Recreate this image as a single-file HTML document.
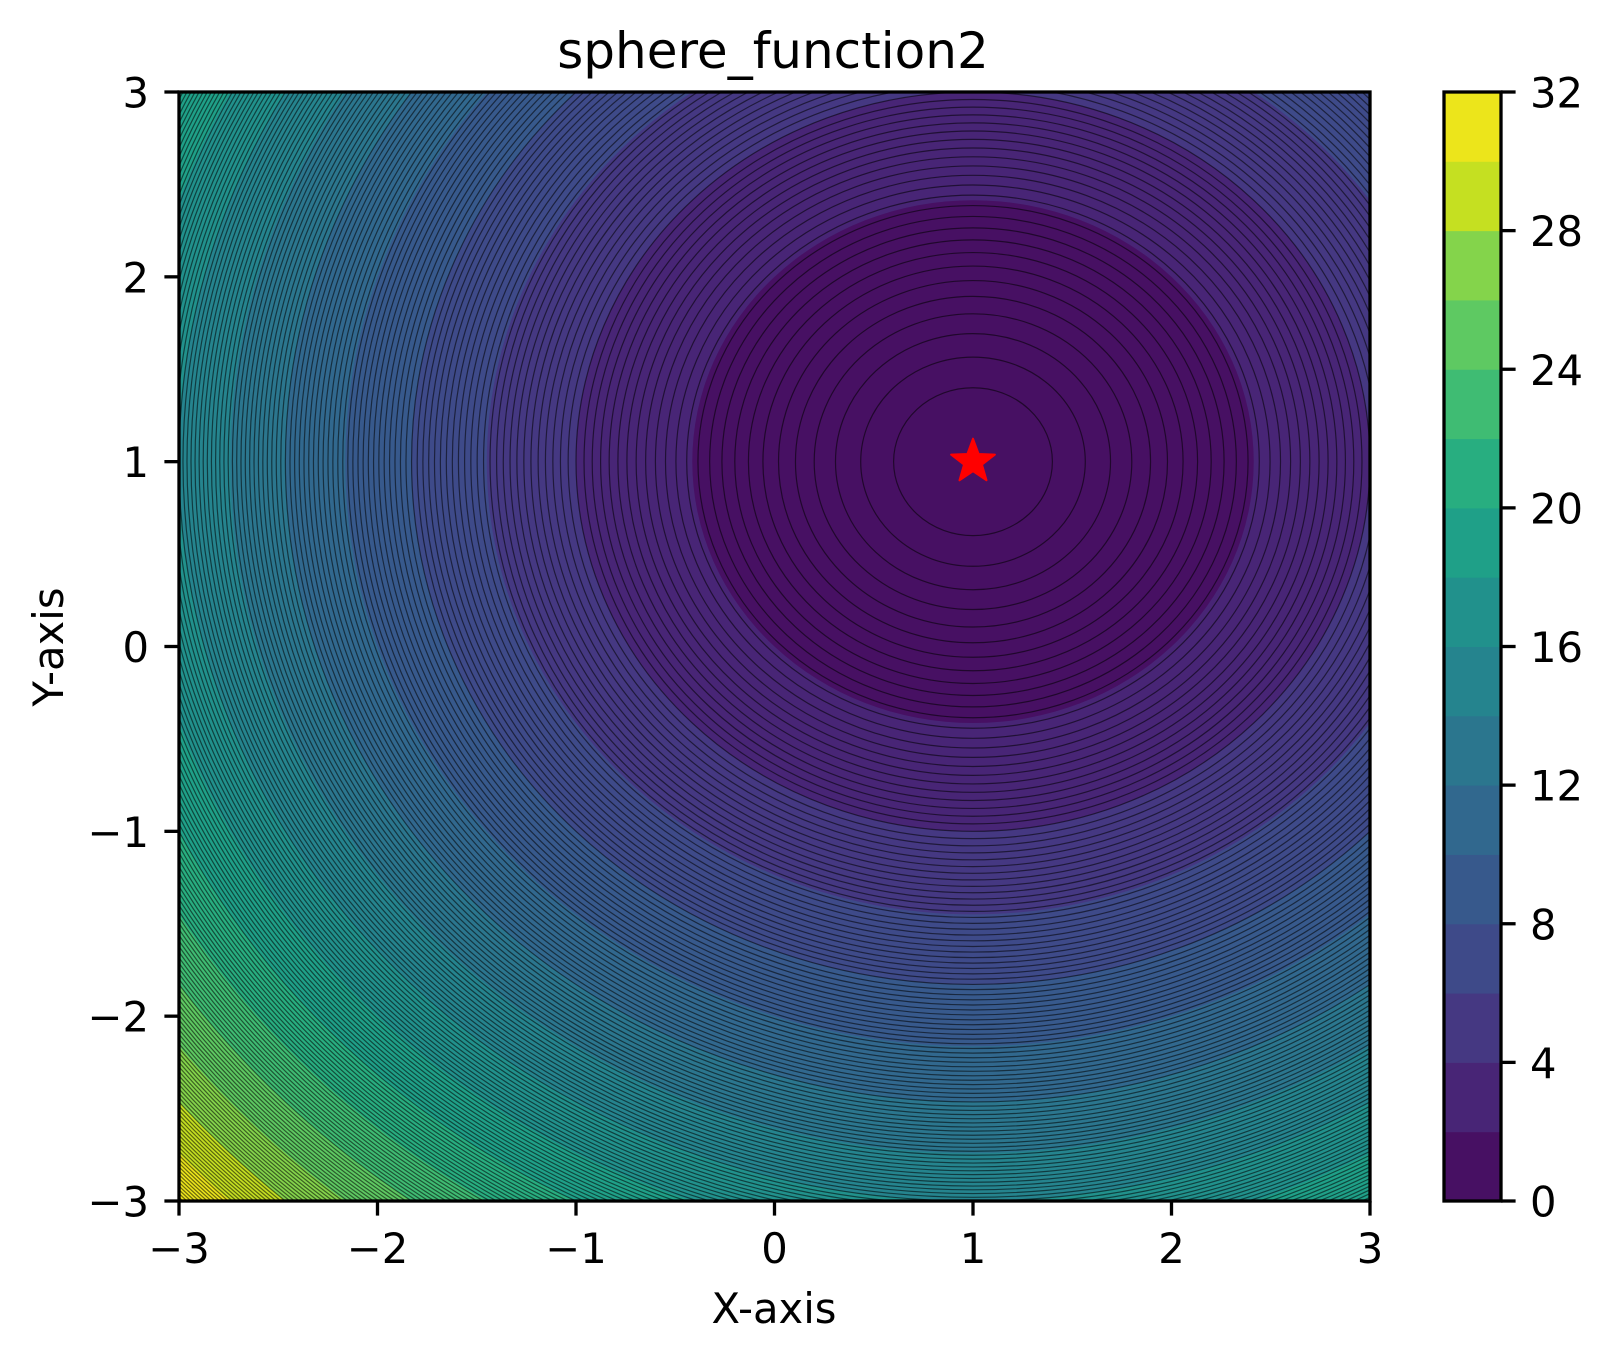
<!DOCTYPE html>
<html><head><meta charset="utf-8"><style>
html,body{margin:0;padding:0;background:#fff;overflow:hidden;width:1611px;height:1361px;}
svg{display:block;}
text{font-family:"DejaVu Sans","Liberation Sans",sans-serif;fill:#000;}
</style></head><body>
<svg id="chart" width="1611" height="1361" viewBox="0 0 1611 1361" xmlns="http://www.w3.org/2000/svg">
<defs><clipPath id="plotclip"><rect x="179" y="92" width="1191" height="1109"/></clipPath></defs>
<g id="fills" clip-path="url(#plotclip)"></g>
<g id="lines" clip-path="url(#plotclip)"></g>
<g id="marker"></g>
<rect x="179" y="92" width="1191" height="1109" fill="none" stroke="#000" stroke-width="3.3"/>
<g id="axes"></g>
<g id="cbar"></g>
<text x="773" y="68" font-size="50" text-anchor="middle">sphere_function2</text>
<text x="774" y="1323" font-size="41.7" text-anchor="middle">X-axis</text>
<text x="0" y="0" font-size="41.7" text-anchor="middle" transform="translate(63,647) rotate(-90)">Y-axis</text>
</svg>
<script>
const centerX = [1];
const centerY = [1];
const fillLevels = [0,2,4,6,8,10,12,14,16,18,20,22,24,26,28,30,32];
const fillColors = ["#471063","#482576","#453882","#3e4a89","#37598c","#31688e","#2b768e","#25848e","#21918c","#1fa088","#28ae80","#3fbc73","#5ec962","#84d44b","#c5e021","#ece51b"];
const xTicks = [-3,-2,-1,0,1,2,3];
const yTicks = [-3,-2,-1,0,1,2,3];
const cbarTicks = [0,4,8,12,16,20,24,28,32];
const lineStep = 0.16, lineCount = 200;

const NS="http://www.w3.org/2000/svg";
const X0=179,X1=1370,Y0=1201,Y1=92;
const sx=v=>X0+(v+3)/6*(X1-X0);
const sy=v=>Y0-(v+3)/6*(Y0-Y1);
const ux=(X1-X0)/6, uy=(Y0-Y1)/6;
function mk(tag,attrs,parent){const e=document.createElementNS(NS,tag);for(const k in attrs)e.setAttribute(k,attrs[k]);parent.appendChild(e);return e;}
const cx=sx(centerX[0]), cy=sy(centerY[0]);
const fills=document.getElementById('fills');
const bg=mk('rect',{x:X0,y:Y1,width:X1-X0,height:Y0-Y1,fill:fillColors[fillColors.length-1]},fills);


for(let i=fillLevels.length-2;i>=1;i--){
  const r=Math.sqrt(fillLevels[i]);
  const e=mk('ellipse',{cx:cx,cy:cy,rx:r*ux,ry:r*uy,fill:fillColors[i-1]},fills);
  
  
}
const lines=document.getElementById('lines');
for(let k=1;k<=lineCount;k++){
  const r=Math.sqrt(k*lineStep);
  const e=mk('ellipse',{cx:cx,cy:cy,rx:r*ux,ry:r*uy,fill:'none',stroke:'#000','stroke-width':1.2,'stroke-opacity':0.55},lines);
  
  
}
const s=[];for(let i=0;i<10;i++){const a=-Math.PI/2+i*Math.PI/5;const rr=i%2?9.5:23;s.push((cx+rr*Math.cos(a)).toFixed(1)+','+(cy+rr*Math.sin(a)).toFixed(1));}
const st=mk('polygon',{points:s.join(' '),fill:'#ff0000',stroke:'#ff0000','stroke-width':2,'stroke-linejoin':'round'},document.getElementById('marker'));


const axes=document.getElementById('axes');
const fmt=v=>v<0?'\u2212'+(-v):''+v;
xTicks.forEach(v=>{
  const t=mk('line',{x1:sx(v),x2:sx(v),y1:Y0,y2:Y0+14.6,stroke:'#000','stroke-width':3.3},axes);
  
  
  const l=mk('text',{x:sx(v),y:Y0+62,'font-size':41.7,'text-anchor':'middle'},axes);l.textContent=fmt(v);
  
  
});
yTicks.forEach(v=>{
  const t=mk('line',{x1:X0-14.6,x2:X0,y1:sy(v),y2:sy(v),stroke:'#000','stroke-width':3.3},axes);
  
  
  const l=mk('text',{x:X0-30,y:sy(v)+15.5,'font-size':41.7,'text-anchor':'end'},axes);l.textContent=fmt(v);
  
  
});
const cb=document.getElementById('cbar');
const CX0=1444,CX1=1501;
const cyv=v=>Y0-v/32*(Y0-Y1);
for(let i=0;i<fillLevels.length-1;i++){
  const r=mk('rect',{x:CX0,y:cyv(fillLevels[i+1]),width:CX1-CX0,height:cyv(fillLevels[i])-cyv(fillLevels[i+1])+0.5,fill:fillColors[i]},cb);
  
  
}
mk('rect',{x:CX0,y:Y1,width:CX1-CX0,height:Y0-Y1,fill:'none',stroke:'#000','stroke-width':3.3},cb);
cbarTicks.forEach(v=>{
  const t=mk('line',{x1:CX1,x2:CX1+14.6,y1:cyv(v),y2:cyv(v),stroke:'#000','stroke-width':3.3},cb);
  
  
  const l=mk('text',{x:CX1+29,y:cyv(v)+15.5,'font-size':41.7},cb);l.textContent=v;
  
  
});
</script>
</body></html>
